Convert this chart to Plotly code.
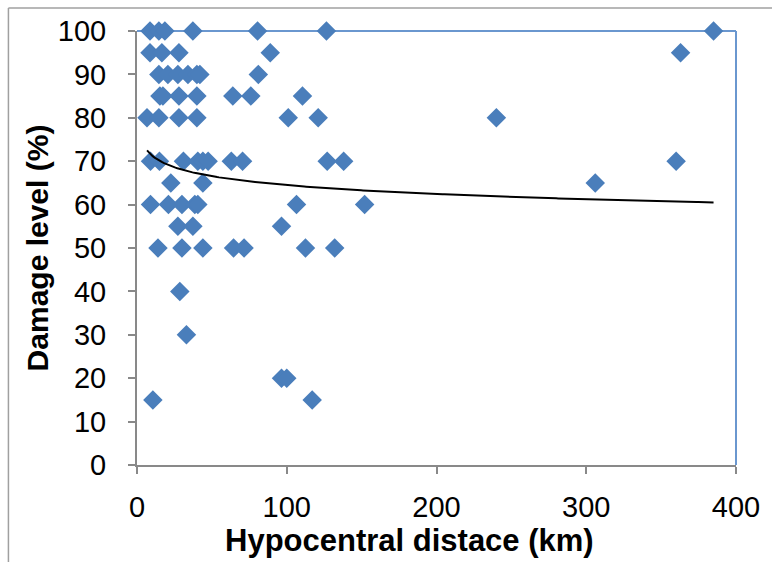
import numpy as np
import plotly.graph_objects as go

# ---- data ----
distance_km = [
    8.7, 14.6, 18.6, 37.3, 80.5, 126.5, 385,          # 100
    8.7, 16.6, 28, 89, 363,                           # 95
    14.6, 20.6, 27.3, 34, 40, 42, 81,                 # 90
    15.3, 17.3, 28, 40, 64, 76, 110.5,                # 85
    6.7, 14.6, 28, 40, 101, 121, 240,                 # 80
    9, 15, 31, 40.6, 44, 47.5, 63, 70.5, 127, 138, 360,  # 70
    22.6, 44, 306,                                    # 65
    9, 21, 30, 38.6, 40.6, 106.5, 152,                # 60
    27.3, 37.3, 96.5,                                 # 55
    14, 30, 44, 64.5, 71.5, 112.5, 132,               # 50
    28.6,                                             # 40
    33,                                               # 30
    96.5, 100,                                        # 20
    10.6, 117,                                        # 15
]
damage_pct = (
    [100] * 7 + [95] * 5 + [90] * 7 + [85] * 7 + [80] * 7 + [70] * 11 +
    [65] * 3 + [60] * 7 + [55] * 3 + [50] * 7 + [40] + [30] + [20] * 2 + [15] * 2
)
x_ticks = [0, 100, 200, 300, 400]
y_ticks = [0, 10, 20, 30, 40, 50, 60, 70, 80, 90, 100]

# logarithmic trendline coefficients (y = A + B*ln x)
TREND_A = 78.13
TREND_B = -2.962
trend_x = np.linspace(min(distance_km), max(distance_km), 300)
trend_y = TREND_A + TREND_B * np.log(trend_x)

FONT = "Liberation Sans, Arial, sans-serif"
GRAY = "#898989"
BLUE_MARK = "#4A7EBB"
BLUE_LINE = "#6A97CF"

fig = go.Figure()
fig.add_trace(go.Scatter(
    x=distance_km, y=damage_pct, mode="markers",
    marker=dict(symbol="diamond", size=15, color=BLUE_MARK, line=dict(width=0)),
    cliponaxis=False, showlegend=False))
fig.add_trace(go.Scatter(
    x=trend_x, y=trend_y, mode="lines",
    line=dict(color="black", width=2), showlegend=False))

L, R, T, B = 137, 34, 31, 97
W, H = 772, 562
pw, ph = W - L - R, H - T - B

fig.update_layout(
    width=W, height=H,
    margin=dict(l=L, r=R, t=T, b=B),
    paper_bgcolor="white", plot_bgcolor="white",
    font=dict(family=FONT, color="black"),
    xaxis=dict(
        range=[0, 400], tickvals=x_ticks, showgrid=False, zeroline=False,
        showline=True, linecolor=GRAY, linewidth=2,
        ticks="outside", ticklen=7, tickwidth=2, tickcolor=GRAY,
        tickfont=dict(size=29), ticklabelstandoff=8,
    ),
    yaxis=dict(
        range=[0, 100], tickvals=y_ticks, showgrid=False, zeroline=False,
        showline=True, linecolor=GRAY, linewidth=2,
        ticks="outside", ticklen=7, tickwidth=2, tickcolor=GRAY,
        tickfont=dict(size=29), ticklabelstandoff=16,
        title=dict(text="<b>Damage level (%)</b>", font=dict(size=30), standoff=0),
    ),
)

# x-axis title (offset left like the reference)
fig.add_annotation(
    text="<b>Hypocentral distace (km)</b>", xref="paper", yref="paper",
    x=(410 - L) / pw, y=(H - B - 540) / ph, xanchor="center", yanchor="middle",
    showarrow=False, font=dict(size=31, family=FONT, color="black"))

# top and right frame of plot area (blue)
fig.add_shape(type="line", xref="x domain", yref="y domain", x0=0, x1=1, y0=1, y1=1,
              line=dict(color=BLUE_LINE, width=2), layer="below")
fig.add_shape(type="line", xref="x domain", yref="y domain", x0=1, x1=1, y0=0, y1=1,
              line=dict(color=BLUE_LINE, width=2), layer="below")

# outer chart border (gray), extending past the visible crop
bx = (8 - L) / pw
by = 1 + (T - 8) / ph
fig.add_shape(type="line", xref="paper", yref="paper", x0=bx, x1=2, y0=by, y1=by,
              line=dict(color="#A0A0A0", width=1.5))
fig.add_shape(type="line", xref="paper", yref="paper", x0=bx, x1=bx, y0=by, y1=-2,
              line=dict(color="#A0A0A0", width=1.5))

fig.write_html("out.html")
